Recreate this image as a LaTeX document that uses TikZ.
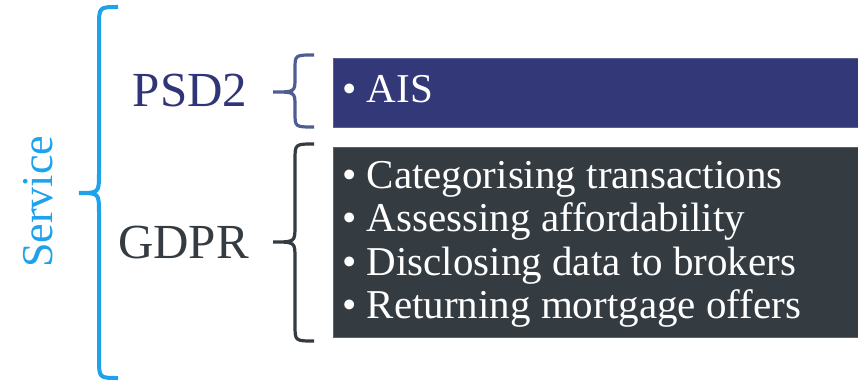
\documentclass[tikz,border=0pt]{standalone}
\usepackage{fontspec}
\setmainfont{Liberation Serif}
\definecolor{serviceblue}{HTML}{1EA2EC}
\definecolor{psdtext}{HTML}{2F3577}
\definecolor{psdbox}{HTML}{323878}
\definecolor{psdbrace}{HTML}{4E5E92}
\definecolor{gdprgray}{HTML}{343B41}
\newcommand{\mybrace}[8]{%
  \draw[#8] (#1,#4) .. controls (#2,#4) .. (#2,{#4+#7}) -- (#2,{#5-#7})
    .. controls (#2,#5) .. (#3,#5) .. controls (#2,#5) .. (#2,{#5+#7})
    -- (#2,{#6-#7}) .. controls (#2,#6) .. (#1,#6);}
\begin{document}
\begin{tikzpicture}[x=1pt,y=-1pt,
  bracepath/.style={line width=3.2pt},
  boxnode/.style={rectangle, inner sep=0pt, anchor=north west, draw=#1!80!white, line width=0.8pt, fill=#1},
  itemtext/.style={text=white, font=\fontsize{41}{43}\selectfont, inner sep=0pt, anchor=base west},
  headtext/.style={font=\fontsize{49}{52}\selectfont, inner sep=0pt, anchor=base}]
\useasboundingbox (0,0) rectangle (858,382);
% braces
\mybrace{118}{99}{79}{7}{193}{378}{20}{serviceblue, line width=4pt}
\mybrace{314}{295}{273}{55}{92}{127}{14}{psdbrace, bracepath}
\mybrace{314}{295}{273}{144}{242}{341}{16}{gdprgray, bracepath}
% labels
\node[rotate=90, anchor=base west, inner sep=0pt, text=serviceblue, font=\fontsize{44}{48}\selectfont] (service) at (52,268) {Service};
\node[headtext, text=psdtext] (psd) at (190,107) {PSD2};
\node[headtext, text=gdprgray] (gdpr) at (183.5,258) {GDPR};
% boxes
\node[boxnode=psdbox, minimum width=525pt, minimum height=69pt] (psdb) at (333,58) {};
\node[boxnode=gdprgray, minimum width=525pt, minimum height=190pt] (gdprb) at (333,147) {};
% items
\node[itemtext] (ais) at (342,103) {•\ AIS};
\node[itemtext] (i1) at (342,188) {•\ Categorising transactions};
\node[itemtext] (i2) at (342,231) {•\ Assessing affordability};
\node[itemtext] (i3) at (342,275) {•\ Disclosing data to brokers};
\node[itemtext] (i4) at (342,318) {•\ Returning mortgage offers};
\end{tikzpicture}
\end{document}
